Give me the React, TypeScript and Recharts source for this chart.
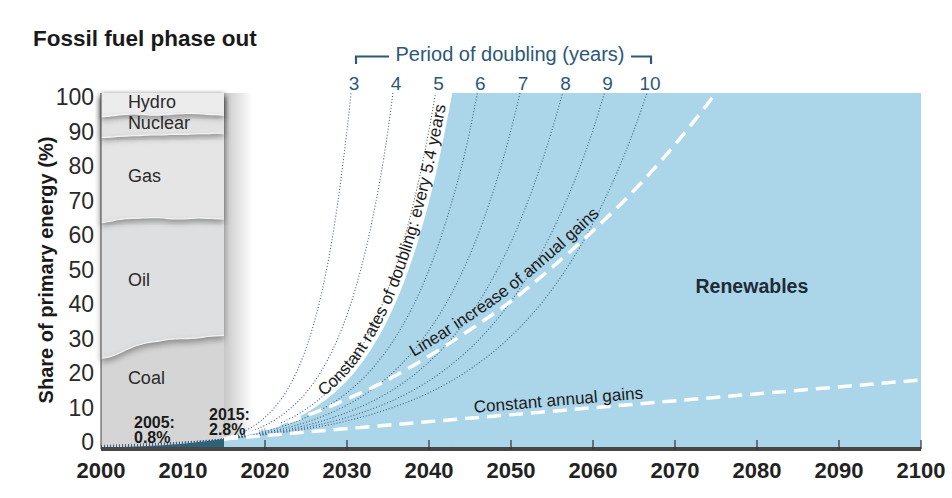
import React from "react";
import {
  ComposedChart,
  Area,
  Line,
  XAxis,
  YAxis,
  ReferenceArea,
  ReferenceDot,
} from "recharts";

const SANS = "'Liberation Sans', Arial, sans-serif";
const NARROW = "'Liberation Sans Narrow', 'Liberation Sans', sans-serif";
const TEAL_TEXT = "#2b5877";

const xTicks = [2000, 2010, 2020, 2030, 2040, 2050, 2060, 2070, 2080, 2090, 2100];
const yTicks = [0, 10, 20, 30, 40, 50, 60, 70, 80, 90, 100];

// fossil mix 2000-2015: upper edge of each layer (% of primary energy)
const fossilYears = [2000, 2001, 2002, 2003, 2004, 2005, 2006, 2007, 2008, 2009, 2010, 2011, 2012, 2013, 2014, 2015];
const coalTop = [25.5, 25.9, 26.7, 27.8, 28.8, 29.5, 30.0, 30.3, 30.7, 30.9, 31.0, 31.1, 31.3, 31.6, 31.8, 31.9];
const oilTop = [63.6, 63.9, 64.4, 64.7, 64.8, 64.9, 65.0, 65.0, 64.8, 64.6, 64.6, 64.8, 64.9, 64.8, 64.7, 64.6];
const gasTop = [87.5, 87.6, 87.8, 87.9, 88.0, 88.1, 88.2, 88.2, 88.3, 88.4, 88.4, 88.5, 88.6, 88.6, 88.7, 88.7];
const nuclearTop = [93.3, 93.5, 93.8, 94.0, 94.1, 94.0, 93.8, 93.8, 93.9, 94.1, 94.2, 94.3, 94.2, 94.0, 93.9, 93.8];

const fossilNames = ["Hydro", "Nuclear", "Gas", "Oil", "Coal"];
const fossilNameShare = [97.2, 91.5, 76.6, 47.3, 19.7];

// renewables so far
const histYears = [2000, 2005, 2010, 2015];
const histShare = [0.4, 0.8, 1.5, 2.8];

// fitted path: doubling every 5.4 years
const fitYears = [2015, 2017, 2019, 2021, 2023, 2025, 2027, 2029, 2031, 2033, 2035, 2037, 2039, 2041, 2042.85];
const fitShare = [2.8, 3.6, 4.7, 6.0, 7.8, 10.1, 13.1, 16.9, 21.8, 28.2, 36.5, 47.2, 61.0, 78.9, 100];
const fullYears = [2042.8, 2100];
const fullShare = [100, 100];

// dotted doubling-period guides
const periods = [3, 4, 5, 6, 7, 8, 9, 10];
const dblBackYears = [2000, 2005, 2010];
const dblBackShare = [
  [0.09, 0.28, 0.88],
  [0.21, 0.49, 1.18],
  [0.35, 0.7, 1.4],
  [0.49, 0.88, 1.57],
  [0.64, 1.04, 1.71],
  [0.76, 1.18, 1.81],
  [0.88, 1.3, 1.9],
  [0.99, 1.4, 1.98],
];
const dblShare = [2.8, 4.0, 5.6, 7.9, 11.2, 15.8, 22.4, 31.7, 44.8, 63.4, 89.6, 100];
const dblYears = [
  [2015, 2016.5, 2018, 2019.5, 2021, 2022.5, 2024, 2025.5, 2027, 2028.5, 2030, 2030.5],
  [2015, 2017, 2019, 2021, 2023, 2025, 2027, 2029, 2031, 2033, 2035, 2035.6],
  [2015, 2017.5, 2020, 2022.5, 2025, 2027.5, 2030, 2032.5, 2035, 2037.5, 2040, 2040.8],
  [2015, 2018, 2021, 2024, 2027, 2030, 2033, 2036, 2039, 2042, 2045, 2045.9],
  [2015, 2018.5, 2022, 2025.5, 2029, 2032.5, 2036, 2039.5, 2043, 2046.5, 2050, 2051.1],
  [2015, 2019, 2023, 2027, 2031, 2035, 2039, 2043, 2047, 2051, 2055, 2056.3],
  [2015, 2019.5, 2024, 2028.5, 2033, 2037.5, 2042, 2046.5, 2051, 2055.5, 2060, 2061.4],
  [2015, 2020, 2025, 2030, 2035, 2040, 2045, 2050, 2055, 2060, 2065, 2066.6],
];

// linear increase of annual gains
const quadYears = [2015, 2020, 2025, 2030, 2035, 2040, 2045, 2050, 2055, 2060, 2065, 2070, 2075];
const quadShare = [2.8, 5.6, 9.3, 14.0, 19.5, 26.1, 33.5, 41.5, 51.0, 61.3, 72.6, 85.5, 100];

// constant annual gains
const linYears = [2015, 2100];
const linShare = [2.8, 19.4];

const rows = (years: number[], vals: number[]) => years.map((year, i) => ({ year, v: vals[i] }));

const fossilRows = fossilYears.map((year, i) => ({
  year,
  c: coalTop[i],
  o: oilTop[i],
  g: gasTop[i],
  n: nuclearTop[i],
}));

function smoothPath(pts: { x: number; y: number }[]) {
  let d = `M${pts[0].x},${pts[0].y}`;
  for (let i = 0; i < pts.length - 1; i++) {
    const p0 = pts[i - 1] || pts[i];
    const p1 = pts[i];
    const p2 = pts[i + 1];
    const p3 = pts[i + 2] || p2;
    const c1x = p1.x + (p2.x - p0.x) / 6;
    const c1y = p1.y + (p2.y - p0.y) / 6;
    const c2x = p2.x - (p3.x - p1.x) / 6;
    const c2y = p2.y - (p3.y - p1.y) / 6;
    d += ` C${c1x},${c1y} ${c2x},${c2y} ${p2.x},${p2.y}`;
  }
  return d;
}

// text that follows a series, drawn from the line's own projected points
function curveLabel(id: string, text: string, startOffset: string, anchor: string, dy: number) {
  return (props: any) => {
    const { index, points } = props;
    if (index !== 0 || !points) return <g key={`${id}-${index}`} />;
    return (
      <g key={`${id}-label`}>
        <path id={id} d={smoothPath(points)} fill="none" stroke="none" />
        <text fontFamily={SANS} fontSize={17} fill="#1c1c1c" dy={dy}>
          <textPath href={`#${id}`} startOffset={startOffset} textAnchor={anchor}>
            {text}
          </textPath>
        </text>
      </g>
    );
  };
}

function periodLabel(period: number, last: number) {
  return (props: any) =>
    props.index === last ? (
      <text
        key={`p${period}`}
        x={props.cx + 3}
        y={props.cy - 3}
        textAnchor="middle"
        fontFamily={SANS}
        fontSize={19}
        fill={TEAL_TEXT}
      >
        {period}
      </text>
    ) : (
      <g key={`p${period}-${props.index}`} />
    );
}

function XTick({ x, y, payload }: any) {
  const v = payload.value;
  return (
    <g>
      {v > 2015 && <line x1={x} x2={x} y1={y - 9} y2={y} stroke="#333" strokeWidth={1.2} />}
      <text x={x} y={y + 29} textAnchor="middle" fontFamily={SANS} fontWeight="bold" fontSize={22} fill="#222">
        {v}
      </text>
    </g>
  );
}

function YTick({ x, y, payload }: any) {
  const v = payload.value;
  return (
    <text x={x} y={y - 7 + 0.11 * v} dy="0.36em" textAnchor="end" fontFamily={NARROW} fontSize={23} fill="#2a2a2a">
      {v}
    </text>
  );
}

function stackedNote(lines: string[], dx: number, dy: number) {
  return (p: any) => {
    const vb = p.viewBox || {};
    return (
      <text fontFamily={SANS} fontWeight="bold" fontSize={16} fill="#1a1a1a">
        {lines.map((t, i) => (
          <tspan key={t} x={vb.x + dx} y={vb.y + dy + i * 15}>
            {t}
          </tspan>
        ))}
      </text>
    );
  };
}

export default function App() {
  return (
    <div style={{ position: "absolute", left: 0, top: 0, width: 952, height: 498, background: "#fff" }}>
      <svg width={0} height={0} style={{ position: "absolute" }}>
        <defs>
          <filter id="tornShadow" x="-5%" y="-20%" width="115%" height="160%">
            <feDropShadow dx="0" dy="3" stdDeviation="3" floodColor="#000" floodOpacity="0.35" />
          </filter>
          <linearGradient id="panelShadow" x1="0" x2="1" y1="0" y2="0">
            <stop offset="0" stopColor="#000" stopOpacity="0.22" />
            <stop offset="1" stopColor="#000" stopOpacity="0" />
          </linearGradient>
        </defs>
      </svg>

      <ComposedChart width={952} height={498} margin={{ top: 93, right: 31, bottom: 0, left: 0 }}>
        <ReferenceArea x1={2015} x2={2018.5} y1={0} y2={100} fill="url(#panelShadow)" fillOpacity={1} stroke="none" />

        {/* fossil panel, bottom layer first so each upper sheet shades the one below */}
        <Area data={fossilRows} dataKey="c" type="monotone" fill="#d5d5d5" fillOpacity={1} stroke="none" isAnimationActive={false} />
        <Area data={fossilRows} dataKey="c" baseValue={100} type="monotone" fill="#dedfe0" fillOpacity={1} stroke="#f2f2f2" strokeWidth={1.2} filter="url(#tornShadow)" isAnimationActive={false} />
        <Area data={fossilRows} dataKey="o" baseValue={100} type="monotone" fill="#e5e5e5" fillOpacity={1} stroke="#f2f2f2" strokeWidth={1.2} filter="url(#tornShadow)" isAnimationActive={false} />
        <Area data={fossilRows} dataKey="g" baseValue={100} type="monotone" fill="#e2e2e2" fillOpacity={1} stroke="#f2f2f2" strokeWidth={1.2} filter="url(#tornShadow)" isAnimationActive={false} />
        <Area data={fossilRows} dataKey="n" baseValue={100} type="monotone" fill="#ececec" fillOpacity={1} stroke="#f4f4f4" strokeWidth={1.2} filter="url(#tornShadow)" isAnimationActive={false} />

        <Area data={rows(histYears, histShare)} dataKey="v" type="monotone" fill="#2b6479" fillOpacity={1} stroke="none" isAnimationActive={false} />

        <Area data={rows(fitYears, fitShare)} dataKey="v" type="monotone" fill="#abd5e8" fillOpacity={1} stroke="none" isAnimationActive={false} />
        <Area data={rows(fullYears, fullShare)} dataKey="v" type="linear" fill="#abd5e8" fillOpacity={1} stroke="none" isAnimationActive={false} />

        {periods.map((p, i) => (
          <Line
            key={`d${p}`}
            data={rows([...dblBackYears, ...dblYears[i]], [...dblBackShare[i], ...dblShare])}
            dataKey="v"
            type="monotone"
            stroke="#3f5f80"
            strokeWidth={1.1}
            strokeDasharray="1 2"
            dot={periodLabel(p, dblBackYears.length + dblYears[i].length - 1)}
            activeDot={false}
            isAnimationActive={false}
          />
        ))}

        <Line data={rows(quadYears, quadShare)} dataKey="v" type="monotone" stroke="#fff" strokeWidth={3.5} strokeDasharray="14 8" dot={false} activeDot={false} isAnimationActive={false} />
        <Line data={rows(linYears, linShare)} dataKey="v" type="linear" stroke="#fff" strokeWidth={3.5} strokeDasharray="14 8" dot={false} activeDot={false} isAnimationActive={false} />

        {/* curve captions */}
        <Line data={rows(fitYears, fitShare)} dataKey="v" type="monotone" stroke="none" dot={curveLabel("lblDouble", "Constant rates of doubling: every 5.4 years", "97%", "end", -4)} activeDot={false} isAnimationActive={false} />
        <Line data={rows(quadYears, quadShare)} dataKey="v" type="monotone" stroke="none" dot={curveLabel("lblQuad", "Linear increase of annual gains", "34%", "start", -7)} activeDot={false} isAnimationActive={false} />
        <Line data={rows(linYears, linShare)} dataKey="v" type="linear" stroke="none" dot={curveLabel("lblLin", "Constant annual gains", "36%", "start", -5)} activeDot={false} isAnimationActive={false} />

        {fossilNames.map((t, i) => (
          <ReferenceDot
            key={t}
            x={2003.4}
            y={fossilNameShare[i]}
            r={1}
            fillOpacity={0}
            stroke="none"
            label={(p: any) => (
              <text x={p.viewBox?.x} y={p.viewBox?.y} dy="0.35em" fontFamily={SANS} fontSize={18} fill="#2a2a2a">
                {t}
              </text>
            )}
          />
        ))}

        <ReferenceDot x={2005} y={0.8} r={1} fillOpacity={0} stroke="none" label={stackedNote(["2005:", "0.8%"], -7, -17)} />
        <ReferenceDot x={2015} y={2.8} r={1} fillOpacity={0} stroke="none" label={stackedNote(["2015:", "2.8%"], -14, -18)} />
        <ReferenceDot
          x={2079.5}
          y={45.5}
          r={1}
          fillOpacity={0}
          stroke="none"
          label={(p: any) => (
            <text x={p.viewBox?.x} y={p.viewBox?.y} dy="0.35em" textAnchor="middle" fontFamily={SANS} fontWeight="bold" fontSize={19.5} fill="#1e2a36">
              Renewables
            </text>
          )}
        />

        <XAxis
          type="number"
          dataKey="year"
          domain={[2000, 2100]}
          ticks={xTicks}
          height={49}
          tickSize={0}
          tickMargin={0}
          tickLine={false}
          axisLine={{ stroke: "#464646", strokeWidth: 4 }}
          tick={<XTick />}
        />
        <YAxis
          type="number"
          domain={[0, 100]}
          ticks={yTicks}
          width={101}
          tickSize={0}
          tickMargin={7}
          tickLine={false}
          axisLine={{ stroke: "#444", strokeWidth: 1 }}
          tick={<YTick />}
        />
      </ComposedChart>

      <svg width={952} height={498} style={{ position: "absolute", left: 0, top: 0, pointerEvents: "none" }}>
        <text x={33} y={46} fontFamily={SANS} fontWeight="bold" fontSize={22.5} fill="#1a1a1a">
          Fossil fuel phase out
        </text>
        <text transform="rotate(-90)" x={-270} y={53} textAnchor="middle" fontFamily={SANS} fontWeight="bold" fontSize={20} fill="#1a1a1a">
          Share of primary energy (%)
        </text>
        <text x={510} y={61} textAnchor="middle" fontFamily={SANS} fontSize={20} fill={TEAL_TEXT}>
          Period of doubling (years)
        </text>
        <path d="M356,64 V56.5 H389" fill="none" stroke={TEAL_TEXT} strokeWidth={2.2} />
        <path d="M631,56.5 H651 V64" fill="none" stroke={TEAL_TEXT} strokeWidth={2.2} />
      </svg>
    </div>
  );
}
